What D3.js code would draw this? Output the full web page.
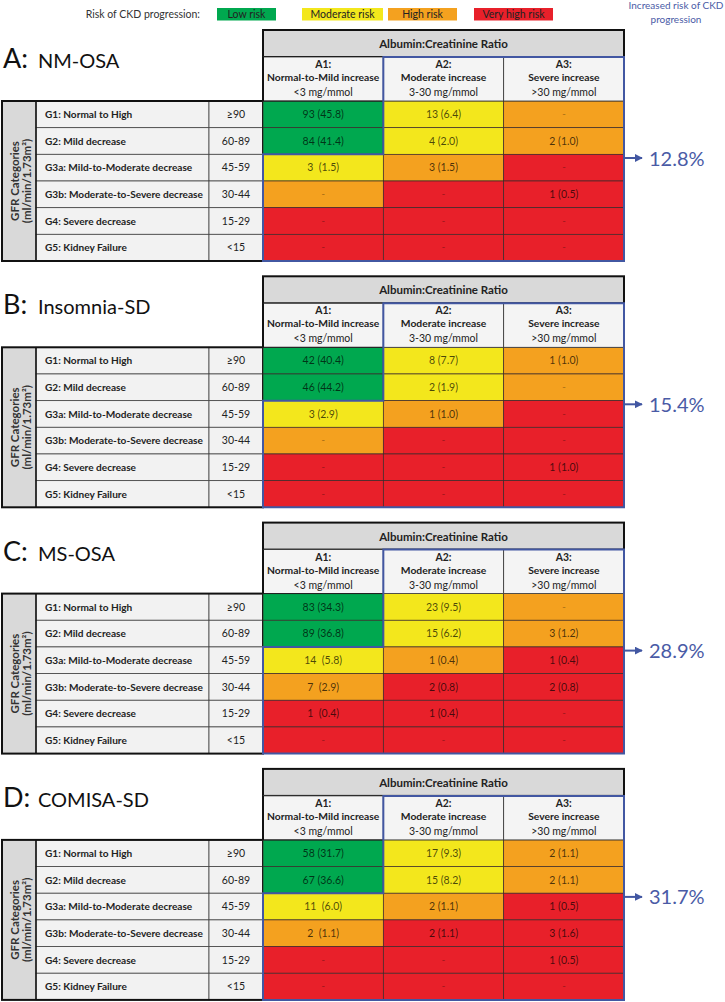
<!DOCTYPE html>
<html><head><meta charset="utf-8">
<script src="https://cdn.jsdelivr.net/npm/d3@7"></script>
<style>
body{margin:0;background:#fff}
svg{display:block}
text{font-family:Lato,"Open Sans","DejaVu Sans",sans-serif}
</style>
</head><body>
<svg id="c" width="725" height="1002"></svg>
<script>
// ---------------- DATA ----------------
const panelLetters = ["A:", "B:", "C:", "D:"];
const panelNames = ["NM-OSA", "Insomnia-SD", "MS-OSA", "COMISA-SD"];
const increasedRisk = ["12.8%", "15.4%", "28.9%", "31.7%"];

const gfrCodes = ["G1", "G2", "G3a", "G3b", "G4", "G5"];
const gfrLabels = ["G1: Normal to High", "G2: Mild decrease", "G3a: Mild-to-Moderate decrease",
  "G3b: Moderate-to-Severe decrease", "G4: Severe decrease", "G5: Kidney Failure"];
const gfrRanges = ["\u226590", "60-89", "45-59", "30-44", "15-29", "<15"];

const acrCodes = ["A1:", "A2:", "A3:"];
const acrTitles = ["Normal-to-Mild increase", "Moderate increase", "Severe increase"];
const acrRanges = ["<3 mg/mmol", "3-30 mg/mmol", ">30 mg/mmol"];

const riskLevels = ["Low risk", "Moderate risk", "High risk", "Very high risk"];
// risk level index for each GFR row x ACR column
const riskGrid = [[0,1,2],[0,1,2],[1,2,3],[2,3,3],[3,3,3],[3,3,3]];

// cell values: "n (%)", "-" = none
const cellsA = [["93 (45.8)","13 (6.4)","-"],["84 (41.4)","4 (2.0)","2 (1.0)"],["3  (1.5)","3 (1.5)","-"],
  ["-","-","1 (0.5)"],["-","-","-"],["-","-","-"]];
const cellsB = [["42 (40.4)","8 (7.7)","1 (1.0)"],["46 (44.2)","2 (1.9)","-"],["3 (2.9)","1 (1.0)","-"],
  ["-","-","-"],["-","-","1 (1.0)"],["-","-","-"]];
const cellsC = [["83 (34.3)","23 (9.5)","-"],["89 (36.8)","15 (6.2)","3 (1.2)"],["14  (5.8)","1 (0.4)","1 (0.4)"],
  ["7  (2.9)","2 (0.8)","2 (0.8)"],["1  (0.4)","1 (0.4)","-"],["-","-","-"]];
const cellsD = [["58 (31.7)","17 (9.3)","2 (1.1)"],["67 (36.6)","15 (8.2)","2 (1.1)"],["11  (6.0)","2 (1.1)","1 (0.5)"],
  ["2  (1.1)","2 (1.1)","3 (1.6)"],["-","-","1 (0.5)"],["-","-","-"]];
const panelCells = [cellsA, cellsB, cellsC, cellsD];

// ---------------- DRAW ----------------
const svg = d3.select("#c");
const riskColor = d3.scaleOrdinal().domain(riskLevels).range(["#00a84f", "#f3e71c", "#f4a11f", "#e8202a"]);
const blue = "#4257a2";
const textBlue = "#4a5ba6";

// legend
const legendX = d3.scaleOrdinal().domain(riskLevels).range([217, 302, 388, 474]);
const legendW = d3.scaleOrdinal().domain(riskLevels).range([59, 81, 69, 79]);
svg.append("text").attr("x", 200).attr("y", 18).attr("text-anchor", "end")
  .attr("font-size", 10.5).attr("fill", "#333").text("Risk of CKD progression:");
const lg = svg.append("g").selectAll("g").data(riskLevels).join("g");
lg.append("rect").attr("x", d => legendX(d)).attr("y", 8).attr("width", d => legendW(d)).attr("height", 12.5)
  .attr("fill", d => riskColor(d));
lg.append("text").attr("x", d => legendX(d) + legendW(d) / 2).attr("y", 18).attr("text-anchor", "middle")
  .attr("font-size", 10.5).attr("fill", "#222").text(d => d);
svg.append("text").attr("x", 676).attr("y", 9).attr("text-anchor", "middle").attr("font-size", 10)
  .attr("fill", textBlue).text("Increased risk of CKD");
svg.append("text").attr("x", 676).attr("y", 22.5).attr("text-anchor", "middle").attr("font-size", 10)
  .attr("fill", textBlue).text("progression");

const defs = svg.append("defs");
defs.append("marker").attr("id", "arr").attr("viewBox", "0 0 10 10").attr("refX", 9).attr("refY", 5)
  .attr("markerWidth", 4).attr("markerHeight", 4).attr("orient", "auto")
  .append("path").attr("d", "M0,0L10,5L0,10z").attr("fill", blue);

const xLeft = 263, xRight = 624;
const x = d3.scaleBand().domain(acrCodes).range([xLeft, xRight]);

panelCells.forEach((cells, p) => {
  const y0 = 30 + p * 246.3;
  const g = svg.append("g");
  const y = d3.scaleBand().domain(gfrCodes).range([y0 + 71, y0 + 231]);
  const rowTop = y(gfrCodes[0]), rowBot = y0 + 231;

  // title
  const t = g.append("text").attr("x", 3).attr("y", y0 + 38).attr("fill", "#111");
  t.append("tspan").attr("font-size", 27).text(panelLetters[p]);
  t.append("tspan").attr("x", 38).attr("font-size", 20).text(panelNames[p]);

  // left table
  g.append("rect").attr("x", 2).attr("y", rowTop).attr("width", 34).attr("height", rowBot - rowTop)
    .attr("fill", "#d9d9d9");
  const rows = g.append("g").selectAll("g").data(gfrCodes).join("g");
  rows.append("rect").attr("x", 36).attr("y", d => y(d)).attr("width", 173).attr("height", y.bandwidth())
    .attr("fill", "#f2f2f2").attr("stroke", "#444").attr("stroke-width", 0.8);
  rows.append("rect").attr("x", 209).attr("y", d => y(d)).attr("width", 54).attr("height", y.bandwidth())
    .attr("fill", "#f2f2f2").attr("stroke", "#444").attr("stroke-width", 0.8);
  rows.append("text").attr("x", 45).attr("y", d => y(d) + y.bandwidth() / 2 + 3.8)
    .attr("font-size", 10.1).attr("font-weight", "bold").attr("fill", "#222").text((d, i) => gfrLabels[i]);
  rows.append("text").attr("x", 236).attr("y", d => y(d) + y.bandwidth() / 2 + 3.8).attr("text-anchor", "middle")
    .attr("font-size", 10.5).attr("fill", "#222").text((d, i) => gfrRanges[i]);
  const midY = (rowTop + rowBot) / 2;
  g.append("text").attr("transform", `translate(18.5,${midY}) rotate(-90)`).attr("text-anchor", "middle")
    .attr("font-size", 11.5).attr("font-weight", "bold").attr("fill", "#333").text("GFR Categories");
  g.append("text").attr("transform", `translate(31,${midY}) rotate(-90)`).attr("text-anchor", "middle")
    .attr("font-size", 11.5).attr("font-weight", "bold").attr("fill", "#333").text("(ml/min/1.73m\u00b2)");
  g.append("line").attr("x1", 36).attr("x2", 36).attr("y1", rowTop).attr("y2", rowBot)
    .attr("stroke", "#111").attr("stroke-width", 1.5);
  g.append("rect").attr("x", 2).attr("y", rowTop).attr("width", xLeft - 2).attr("height", rowBot - rowTop)
    .attr("fill", "none").attr("stroke", "#111").attr("stroke-width", 2);

  // coloured cells
  const cellData = [];
  cells.forEach((row, r) => row.forEach((v, c) => cellData.push({ r, c, v })));
  const cg = g.append("g").selectAll("g").data(cellData).join("g");
  cg.append("rect").attr("x", d => x(acrCodes[d.c])).attr("y", d => y(gfrCodes[d.r]))
    .attr("width", x.bandwidth()).attr("height", y.bandwidth())
    .attr("fill", d => riskColor(riskLevels[riskGrid[d.r][d.c]]))
    .attr("stroke", "#3a2a2a").attr("stroke-width", 0.7);
  cg.append("text").attr("x", d => x(acrCodes[d.c]) + x.bandwidth() / 2)
    .attr("y", d => y(gfrCodes[d.r]) + y.bandwidth() / 2 + 3.8)
    .attr("text-anchor", "middle").attr("font-size", 10.5).style("white-space", "pre")
    .attr("fill", "#000").attr("fill-opacity", d => d.v === "-" ? 0.3 : 0.7).text(d => d.v);

  // header
  g.append("rect").attr("x", xLeft).attr("y", y0).attr("width", xRight - xLeft).attr("height", 27)
    .attr("fill", "#d9d9d9").attr("stroke", "#111").attr("stroke-width", 2);
  g.append("text").attr("x", (xLeft + xRight) / 2).attr("y", y0 + 18).attr("text-anchor", "middle")
    .attr("font-size", 11.5).attr("font-weight", "bold").attr("fill", "#222").text("Albumin:Creatinine Ratio");
  const hg = g.append("g").selectAll("g").data(acrCodes).join("g");
  hg.append("rect").attr("x", d => x(d)).attr("y", y0 + 27).attr("width", x.bandwidth()).attr("height", 44)
    .attr("fill", "#f4f4f4").attr("stroke", "#333").attr("stroke-width", 0.8);
  hg.append("text").attr("x", d => x(d) + x.bandwidth() / 2).attr("y", y0 + 38).attr("text-anchor", "middle")
    .attr("font-size", 10.4).attr("font-weight", "bold").attr("fill", "#222").text(d => d);
  hg.append("text").attr("x", d => x(d) + x.bandwidth() / 2).attr("y", y0 + 51).attr("text-anchor", "middle")
    .attr("font-size", 10.3).attr("font-weight", "bold").attr("fill", "#222").text((d, i) => acrTitles[i]);
  hg.append("text").attr("x", d => x(d) + x.bandwidth() / 2).attr("y", y0 + 66).attr("text-anchor", "middle")
    .attr("font-size", 10.5).attr("fill", "#222").text((d, i) => acrRanges[i]);
  // black frame around A1 sub-header
  g.append("path").attr("d", `M${xLeft},${y0 + 27}V${rowTop}`).attr("stroke", "#111").attr("stroke-width", 2);
  g.append("path").attr("d", `M${xLeft},${rowTop}H${x(acrCodes[1])}V${y(gfrCodes[2])}`).attr("fill", "none")
    .attr("stroke", "#111").attr("stroke-width", 0.8);

  // blue outline of elevated-risk region
  const xa2 = x(acrCodes[1]), yg3 = y(gfrCodes[2]);
  g.append("path")
    .attr("d", `M${xa2},${y0 + 27}H${xRight}V${rowBot}H${xLeft}V${yg3}H${xa2}Z`)
    .attr("fill", "none").attr("stroke", blue).attr("stroke-width", 2);

  // arrow + percentage
  const ay = y0 + 128;
  g.append("line").attr("x1", xRight + 1).attr("x2", xRight + 18).attr("y1", ay).attr("y2", ay)
    .attr("stroke", blue).attr("stroke-width", 2).attr("marker-end", "url(#arr)");
  g.append("text").attr("x", 649).attr("y", ay + 7.5).attr("font-size", 20).attr("fill", textBlue)
    .text(increasedRisk[p]);
});
</script>
</body></html>
